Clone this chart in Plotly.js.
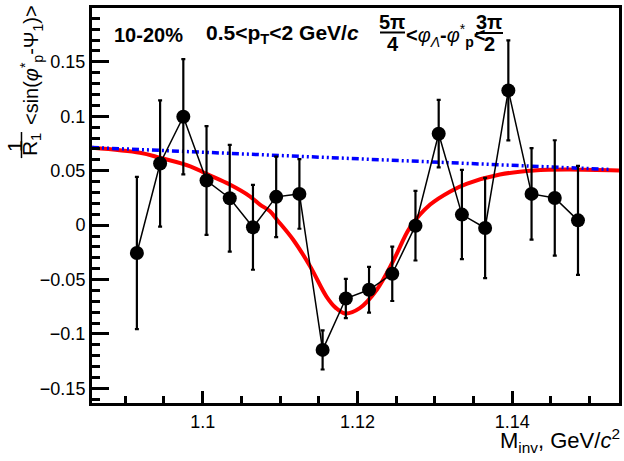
<!DOCTYPE html>
<html>
<head>
<meta charset="utf-8">
<script src="https://cdn.plot.ly/plotly-3.0.1.min.js"></script>
<style>html,body{margin:0;padding:0;background:#fff;}#chart{width:624px;height:461px;}</style>
</head>
<body>
<div id="chart"></div>
<script>
// Data points (M_inv bin centres, GeV/c^2)
const massBins = [1.0915, 1.0945, 1.0975, 1.1005, 1.1035, 1.1065, 1.1095, 1.1125, 1.1155, 1.1185,
                  1.1215, 1.1245, 1.1275, 1.1305, 1.1335, 1.1365, 1.1395, 1.1425, 1.1455, 1.1485];
const sinValues = [-0.0256, 0.0566, 0.0996, 0.0410, 0.0247, -0.0020, 0.0260, 0.0287, -0.1146, -0.0674,
                   -0.0594, -0.0447, -0.0005, 0.0840, 0.0097, -0.0026, 0.1238, 0.0287, 0.0250, 0.0044];
const sinErrors = [0.070, 0.058, 0.053, 0.050, 0.049, 0.039, 0.037, 0.032, 0.018, 0.018,
                   0.021, 0.025, 0.032, 0.031, 0.041, 0.046, 0.046, 0.042, 0.053, 0.050];

// Red fit curve
const fitX = [1.0857, 1.0919, 1.0945, 1.0984, 1.1005, 1.1035, 1.1061, 1.1074, 1.1087, 1.1096,
              1.1117, 1.1139, 1.1160, 1.1172, 1.1184, 1.1203, 1.1225, 1.1247, 1.1268, 1.1294,
              1.1320, 1.1341, 1.1384, 1.1428, 1.1471, 1.1538];
const fitY = [0.0711, 0.0665, 0.0619, 0.0541, 0.0471, 0.0373, 0.0265, 0.0189, 0.0127, 0.0050,
              -0.0134, -0.0380, -0.0656, -0.0760, -0.0812, -0.0763, -0.0594, -0.0318, -0.0020, 0.0189,
              0.0310, 0.0379, 0.0465, 0.0502, 0.0511, 0.0502];

// Blue straight background line
const lineX = [1.0857, 1.1525];
const lineY = [0.0713, 0.0512];

const xRange = [1.0857, 1.1538];
const yRange = [-0.1634, 0.1995];

const FONT = "'Liberation Sans', Arial, Helvetica, sans-serif";

const traces = [
  {x: fitX, y: fitY, type: 'scatter', mode: 'lines',
   line: {color: '#ff0000', width: 4, shape: 'spline', smoothing: 1}, hoverinfo: 'skip'},
  {x: lineX, y: lineY, type: 'scatter', mode: 'lines',
   line: {color: '#0000ff', width: 3.5, dash: '7px,3px,2px,3px,2px,3px'}, hoverinfo: 'skip'},
  {x: massBins, y: sinValues, type: 'scatter', mode: 'lines+markers',
   line: {color: '#000', width: 1.5},
   marker: {color: '#000', size: 14},
   error_y: {type: 'data', array: sinErrors, visible: true, color: '#000', thickness: 2.2, width: 2}}
];

function pa(x, y, text, opts) {
  return Object.assign({xref: 'paper', yref: 'paper', x: x, y: y, text: text, showarrow: false,
    xanchor: 'center', yanchor: 'middle', font: {family: FONT, size: 20, color: '#000'}}, opts || {});
}

const annotations = [
  pa(0.038, 0.9316, '<b>10-20%</b>', {xanchor: 'left'}),
  pa(0.2125, 0.9716, '<b>0.5&lt;p<sub>T</sub>&lt;2 GeV/<i>c</i></b>', {xanchor: 'left', yanchor: 'top', font: {family: FONT, size: 21, color: '#000'}}),
  pa(0.5693, 0.9646, '<b>5π</b>'),
  pa(0.5712, 0.9089, '<b>4</b>'),
  pa(0.592, 0.9716, '<b>&lt;</b><i>φ</i><sub><i>Λ</i></sub><b>-</b><i>φ</i><sup>*</sup><sub><b>p</b></sub><b>&lt;</b>', {xanchor: 'left', yanchor: 'top'}),
  pa(0.7533, 0.9646, '<b>3π</b>'),
  pa(0.7552, 0.9089, '<b>2</b>'),
  // x-axis title
  pa(1.0057, -0.0962, 'M<sub>inv</sub>, GeV/<i>c</i><sup>2</sup>', {xanchor: 'right', font: {family: FONT, size: 22, color: '#000'}}),
  // y-axis title pieces
  pa(-0.1157, 0.6987, '&lt;sin(<i>φ</i><sup>*</sup><sub>p</sub>-Ψ<sub>1</sub>)&gt;', {textangle: -90, yanchor: 'bottom', font: {family: FONT, size: 20, color: '#000'}}),
  pa(-0.148, 0.6506, '1', {textangle: -90, font: {family: FONT, size: 21, color: '#000'}}),
  pa(-0.1157, 0.653, 'R<sub>1</sub>', {textangle: -90, font: {family: FONT, size: 21, color: '#000'}})
];

const shapes = [
  {type: 'line', xref: 'paper', yref: 'paper', x0: 0.5465, x1: 0.5939, y0: 0.938, y1: 0.938, line: {color: '#000', width: 2}},
  {type: 'line', xref: 'paper', yref: 'paper', x0: 0.7287, x1: 0.7799, y0: 0.9367, y1: 0.9367, line: {color: '#000', width: 2}},
  {type: 'line', xref: 'paper', yref: 'paper', x0: -0.1338, x1: -0.1338, y0: 0.620, y1: 0.686, line: {color: '#000', width: 1.5}}
];

const layout = {
  width: 624, height: 461,
  margin: {l: 92, r: 5, t: 8, b: 58, pad: 0},
  paper_bgcolor: '#fff', plot_bgcolor: '#fff',
  showlegend: false,
  font: {family: FONT, size: 18, color: '#000'},
  xaxis: {
    range: xRange, showgrid: false, zeroline: false,
    showline: true, mirror: true, linecolor: '#000', linewidth: 3,
    ticks: 'inside', ticklen: 12, tickwidth: 3, tickcolor: '#000',
    tick0: 1.1, dtick: 0.02,
    minor: {ticks: 'inside', ticklen: 7, tickwidth: 3, tickcolor: '#000', dtick: 0.005, tick0: 1.1},
    tickfont: {family: FONT, size: 18, color: '#000'}
  },
  yaxis: {
    range: yRange, showgrid: false, zeroline: false,
    showline: true, mirror: true, linecolor: '#000', linewidth: 3,
    ticks: 'inside', ticklen: 17, tickwidth: 3, tickcolor: '#000',
    tick0: 0, dtick: 0.05,
    minor: {ticks: 'inside', ticklen: 8, tickwidth: 3, tickcolor: '#000', dtick: 0.01, tick0: 0},
    tickfont: {family: FONT, size: 18, color: '#000'}
  },
  annotations: annotations,
  shapes: shapes
};

Plotly.newPlot('chart', traces, layout, {displayModeBar: false, staticPlot: true});
</script>
</body>
</html>
